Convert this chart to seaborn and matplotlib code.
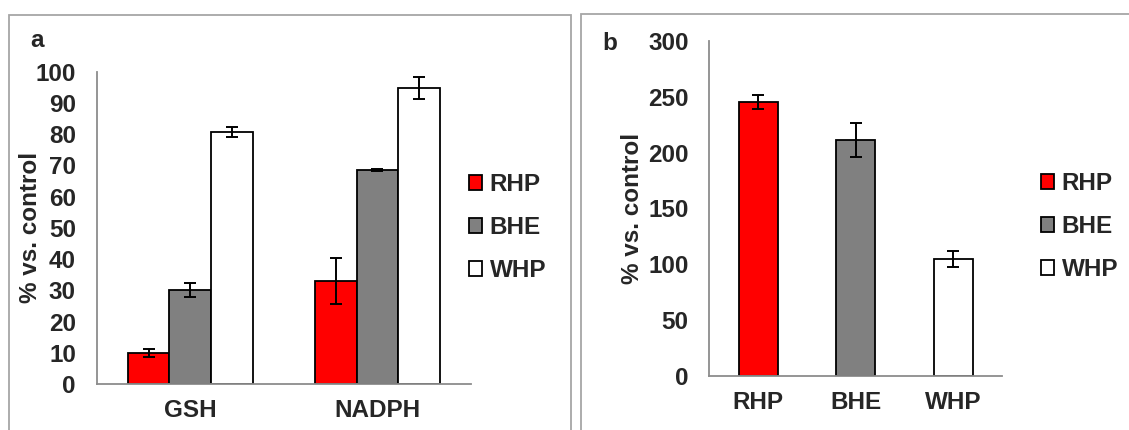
import matplotlib
matplotlib.use("Agg")
import matplotlib.pyplot as plt
from matplotlib.patches import Patch, Rectangle
import numpy as np
import pandas as pd
import seaborn as sns

# ---- data -----------------------------------------------------------------
categories_a = ["GSH", "NADPH"]
series = ["RHP", "BHE", "WHP"]
rhp_a = [9.9, 33.0]
bhe_a = [30.1, 68.5]
whp_a = [80.6, 94.8]
rhp_err_a = [1.3, 7.3]
bhe_err_a = [2.3, 0.3]
whp_err_a = [1.6, 3.5]

categories_b = ["RHP", "BHE", "WHP"]
values_b = [245.6, 211.3, 104.6]
err_b = [6.4, 15.4, 7.0]

yticks_a = list(range(0, 101, 10))
yticks_b = list(range(0, 301, 50))
ylabel = "% vs. control"

colors = {"RHP": "#FF0000", "BHE": "#808080", "WHP": "#FFFFFF"}

# ---- style ----------------------------------------------------------------
sns.set_style("white")
plt.rcParams["font.family"] = ["Liberation Sans", "DejaVu Sans"]
plt.rcParams["font.weight"] = "bold"
FS = 17.5
AXIS_GRAY = "#8c8c8c"
FRAME_GRAY = "#a6a6a6"

fig = plt.figure(figsize=(11.29, 4.30), dpi=100)

# outer panel frames
fig.add_artist(Rectangle((0.0082, -0.05), 0.4975, 1.0151, transform=fig.transFigure,
                         fill=False, ec=FRAME_GRAY, lw=1.3))
fig.add_artist(Rectangle((0.5146, -0.05), 0.60, 1.0174, transform=fig.transFigure,
                         fill=False, ec=FRAME_GRAY, lw=1.3))

ax_a = fig.add_axes([0.0857, 0.1070, 0.3315, 0.7263])
ax_b = fig.add_axes([0.6284, 0.1263, 0.2593, 0.7784])

# ---- panel a --------------------------------------------------------------
df_a = pd.DataFrame({
    "category": np.repeat(categories_a, len(series)),
    "series": series * len(categories_a),
    "value": [v for trip in zip(rhp_a, bhe_a, whp_a) for v in trip],
})
err_a = {"RHP": rhp_err_a, "BHE": bhe_err_a, "WHP": whp_err_a}

sns.barplot(data=df_a, x="category", y="value", hue="series", order=categories_a,
            hue_order=series, palette=colors, saturation=1, width=0.668,
            errorbar=None, edgecolor="black", linewidth=1.3, legend=False, ax=ax_a)

for cont, name in zip(ax_a.containers, series):
    xs = [b.get_x() + b.get_width() / 2 for b in cont]
    ys = [b.get_height() for b in cont]
    ax_a.errorbar(xs, ys, yerr=err_a[name], fmt="none", ecolor="black",
                  elinewidth=1.4, capsize=4.3, capthick=1.4, zorder=5)

ax_a.set_ylim(0, 100)
ax_a.set_yticks(yticks_a)
ax_a.set_xlim(-0.5, len(categories_a) - 0.5)

# ---- panel b --------------------------------------------------------------
df_b = pd.DataFrame({"group": categories_b, "value": values_b})
sns.barplot(data=df_b, x="group", y="value", hue="group", order=categories_b,
            hue_order=categories_b, palette=colors, saturation=1, width=0.4,
            errorbar=None, edgecolor="black", linewidth=1.3, legend=False, ax=ax_b)

bars_b = [b for cont in ax_b.containers for b in cont]
bars_b.sort(key=lambda b: b.get_x())
xs_b = [b.get_x() + b.get_width() / 2 for b in bars_b]
ys_b = [b.get_height() for b in bars_b]
ax_b.errorbar(xs_b, ys_b, yerr=err_b, fmt="none", ecolor="black",
              elinewidth=1.4, capsize=4.3, capthick=1.4, zorder=5)

ax_b.set_ylim(0, 300)
ax_b.set_yticks(yticks_b)
ax_b.set_xlim(-0.5, len(categories_b) - 0.5)

# ---- shared axis cosmetics -----------------------------------------------
for ax, ncat in ((ax_a, len(categories_a)), (ax_b, len(categories_b))):
    sns.despine(ax=ax, top=True, right=True)
    for side in ("left", "bottom"):
        ax.spines[side].set_color(AXIS_GRAY)
        ax.spines[side].set_linewidth(1.3)
    ax.set_xlabel("")
    ax.set_ylabel(ylabel, fontsize=FS, fontweight="bold")
    # category separators as minor ticks, labels on major ticks without marks
    ax.set_xticks(np.arange(-0.5, ncat, 1.0), minor=True)
    ax.tick_params(axis="x", which="minor", length=5.5, width=1.3, color=AXIS_GRAY,
                   direction="out")
    ax.tick_params(axis="x", which="major", length=0, pad=11, labelsize=FS)
    ax.tick_params(axis="y", which="major", length=5, width=1.3, color=AXIS_GRAY,
                   direction="out", pad=10, labelsize=FS)
    for lab in ax.get_xticklabels() + ax.get_yticklabels():
        lab.set_fontweight("bold")
    ax.set_facecolor("none")

ax_a.yaxis.set_label_coords(-0.145, 0.5)
ax_b.yaxis.set_label_coords(-0.225, 0.5)

# ---- legends ------------------------------------------------------------
handles = [Patch(facecolor=colors[s], edgecolor="black", linewidth=1.3, label=s)
           for s in series]
leg_kw = dict(frameon=False, loc="upper left", borderpad=0, borderaxespad=0,
              handlelength=0.55, handleheight=0.55, handletextpad=0.3,
              labelspacing=0.82, prop={"size": FS, "weight": "bold"})
fig.legend(handles=handles, bbox_to_anchor=(469 / 1129, 1 - 173 / 430), **leg_kw)
fig.legend(handles=handles, bbox_to_anchor=(1041 / 1129, 1 - 172 / 430), **leg_kw)

# ---- panel letters ---------------------------------------------------------
fig.text(30 / 1129, 1 - 47 / 430, "a", fontsize=FS, fontweight="bold")
fig.text(602 / 1129, 1 - 50 / 430, "b", fontsize=FS, fontweight="bold")

fig.savefig("out.png", dpi=100, facecolor="white")
